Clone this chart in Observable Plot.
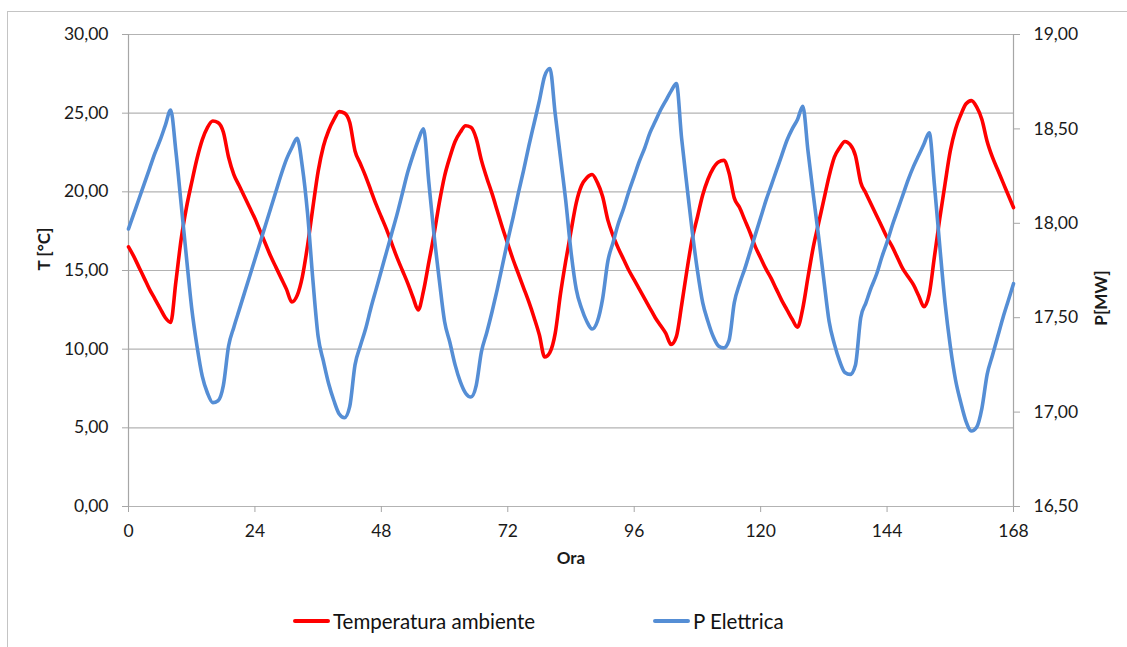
<!DOCTYPE html>
<html>
<head>
<meta charset="utf-8">
<script src="https://cdn.jsdelivr.net/npm/d3@7"></script>
<script src="https://cdn.jsdelivr.net/npm/@observablehq/plot@0.6"></script>
<style>
  html, body { margin: 0; padding: 0; background: #fff; }
  #wrap { position: relative; width: 1127px; height: 647px; overflow: hidden; font-family: Lato, "Open Sans", sans-serif; }
  #frame { position: absolute; left: 7px; top: 11px; width: 1300px; height: 800px; border: 1px solid #c4c4c4; box-sizing: border-box; }
  #chart { position: absolute; left: 0; top: 0; }
  #legend { position: absolute; top: 607px; left: 0; width: 1127px; height: 28px; font-size: 20.5px; color: #111; }
  .item { position: absolute; top: 0; display: flex; align-items: center; height: 28px; }
  .sw { width: 37px; height: 4px; border-radius: 2px; margin-right: 3px; }
</style>
</head>
<body>
<div id="wrap">
  <div id="frame"></div>
  <div id="chart"></div>
  <div id="legend"></div>
</div>
<script>
const seriesNames = ["Temperatura ambiente", "P Elettrica"];
const seriesColors = ["#ff0000", "#558ed5"];
const xTicks = [0, 24, 48, 72, 96, 120, 144, 168];
const tTicks = [0, 5, 10, 15, 20, 25, 30];
const pTicks = [16.5, 17, 17.5, 18, 18.5, 19];

// Temperatura ambiente [°C], hourly 0..168
const temperatura = [
16.5,15.9,15.2,14.5,13.8,13.2,12.6,12.0,11.7,14.3,
17.0,19.0,20.6,22.1,23.3,24.1,24.5,24.4,23.8,22.2,
21.1,20.4,19.7,19.0,18.3,17.5,16.7,15.9,15.2,14.5,
13.8,13.0,13.4,14.6,16.6,19.0,21.3,22.9,23.9,24.6,
25.1,25.0,24.4,22.6,21.8,21.0,20.1,19.2,18.4,17.6,
16.7,15.8,15.0,14.2,13.3,12.5,13.7,15.5,17.3,19.3,
21.0,22.2,23.2,23.8,24.2,24.1,23.4,22.0,20.9,19.9,
18.8,17.7,16.7,15.7,14.8,13.9,13.0,12.0,10.9,9.5,
9.8,11.0,13.5,15.6,17.5,19.3,20.4,20.9,21.1,20.6,
19.7,18.2,17.2,16.4,15.7,15.0,14.4,13.8,13.2,12.6,
12.0,11.5,11.0,10.3,10.8,12.8,15.0,17.0,18.4,19.8,
20.8,21.5,21.9,22.0,21.2,19.6,19.0,18.2,17.4,16.5,
15.8,15.1,14.5,13.8,13.1,12.5,11.9,11.4,12.6,14.6,
16.5,18.0,19.5,21.0,22.2,22.8,23.2,23.0,22.3,20.6,
19.9,19.2,18.5,17.8,17.1,16.5,15.8,15.1,14.6,14.1,
13.4,12.7,13.5,15.9,18.3,20.5,22.6,24.0,24.9,25.6,
25.8,25.4,24.6,23.2,22.2,21.4,20.6,19.8,19.0
];

// P Elettrica [MW], hourly 0..168
const potenza = [
17.97,18.05,18.13,18.21,18.29,18.37,18.44,18.52,18.60,18.38,
18.10,17.82,17.55,17.35,17.19,17.10,17.05,17.06,17.14,17.35,
17.45,17.54,17.63,17.72,17.81,17.90,17.99,18.08,18.17,18.26,
18.34,18.40,18.45,18.30,18.05,17.70,17.40,17.27,17.15,17.06,
16.99,16.97,17.03,17.25,17.35,17.44,17.55,17.65,17.75,17.85,
17.95,18.05,18.16,18.27,18.36,18.44,18.50,18.22,17.94,17.70,
17.48,17.37,17.25,17.16,17.10,17.08,17.14,17.32,17.42,17.53,
17.65,17.78,17.91,18.03,18.16,18.28,18.41,18.53,18.65,18.78,
18.82,18.58,18.35,18.12,17.85,17.65,17.55,17.48,17.44,17.48,
17.60,17.80,17.90,18.00,18.08,18.17,18.25,18.33,18.40,18.48,
18.54,18.60,18.65,18.70,18.74,18.45,18.20,17.96,17.75,17.58,
17.48,17.40,17.35,17.34,17.38,17.58,17.68,17.76,17.85,17.94,
18.03,18.12,18.20,18.28,18.36,18.44,18.50,18.55,18.62,18.38,
18.15,17.93,17.70,17.48,17.36,17.27,17.21,17.20,17.25,17.50,
17.58,17.66,17.73,17.82,17.90,17.99,18.07,18.15,18.23,18.30,
18.36,18.42,18.48,18.20,17.88,17.58,17.35,17.17,17.05,16.95,
16.90,16.92,17.02,17.20,17.30,17.40,17.50,17.59,17.68
];

const data = temperatura.map((t, i) => ({ ora: i, t, p: potenza[i] }));

// right axis (P) mapped onto left axis (T) scale
const pMin = 16.5, pMax = 19, tMin = 0, tMax = 30;
const pToT = p => tMin + (p - pMin) * (tMax - tMin) / (pMax - pMin);
const tToP = t => pMin + (t - tMin) * (pMax - pMin) / (tMax - tMin);
const fmt = v => v.toFixed(2).replace(".", ",");

const grid = "#b3b3b3";
const axisCol = "#a6a6a6";
const textCol = "#1a1a1a";

const chart = Plot.plot({
  width: 1127,
  height: 600,
  marginLeft: 128,
  marginRight: 114,
  marginTop: 34,
  marginBottom: 94,
  style: { fontFamily: "Lato, 'Open Sans', sans-serif", fontSize: "17.5px", color: textCol, background: "transparent", overflow: "visible" },
  x: { domain: [0, 168] },
  y: { domain: [tMin, tMax] },
  marks: [
    Plot.ruleY(tTicks, { stroke: grid, strokeWidth: 1.2 }),
    Plot.ruleX([0, 168], { stroke: axisCol, strokeWidth: 1.2 }),
    Plot.axisY({ ticks: tTicks, tickFormat: fmt, tickSize: 6, tickPadding: 14, stroke: axisCol, fill: textCol, label: null }),
    Plot.axisY({ anchor: "right", ticks: pTicks.map(pToT), tickFormat: v => fmt(tToP(v)), tickSize: 6, tickPadding: 14, stroke: axisCol, fill: textCol, label: null }),
    Plot.axisX({ ticks: xTicks, tickFormat: d => String(d), tickSize: 6, tickPadding: 12, stroke: axisCol, fill: textCol, label: null }),
    Plot.line(data, { x: "ora", y: "t", stroke: seriesColors[0], strokeWidth: 3.6, curve: "monotone-x" }),
    Plot.line(data, { x: "ora", y: d => pToT(d.p), stroke: seriesColors[1], strokeWidth: 3.6, curve: "monotone-x" }),
    Plot.text(["T [°C]"], { frameAnchor: "left", dx: -84, rotate: -90, fontWeight: "bold", fontSize: 17, fill: textCol }),
    Plot.text(["P[MW]"], { frameAnchor: "right", dx: 88, rotate: -90, fontWeight: "bold", fontSize: 17, fill: textCol }),
    Plot.text(["Ora"], { frameAnchor: "bottom", dy: 57, fontWeight: "bold", fontSize: 17, fill: textCol })
  ]
});
document.getElementById("chart").appendChild(chart);

const legend = document.getElementById("legend");
const lefts = [293, 653];
seriesNames.forEach((name, i) => {
  const it = document.createElement("div");
  it.className = "item";
  it.style.left = lefts[i] + "px";
  const sw = document.createElement("div");
  sw.className = "sw";
  sw.style.background = seriesColors[i];
  const tx = document.createElement("span");
  tx.textContent = name;
  it.appendChild(sw);
  it.appendChild(tx);
  legend.appendChild(it);
});
</script>
</body>
</html>
